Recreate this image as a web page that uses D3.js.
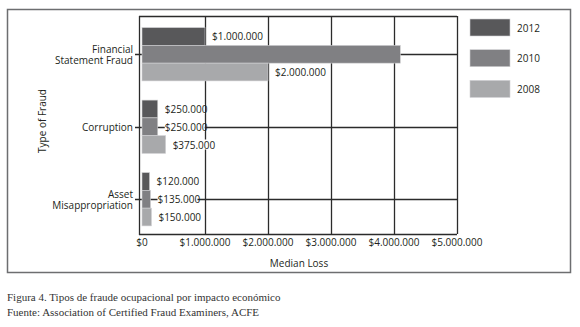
<!DOCTYPE html>
<html>
<head>
<meta charset="utf-8">
<script src="https://cdn.jsdelivr.net/npm/d3@7"></script>
<style>
  body { margin: 0; background: #fff; }
  svg { display: block; }
</style>
</head>
<body>
<svg id="chart" width="580" height="327"></svg>
<script>
const categories = ['Financial Statement Fraud', 'Corruption', 'Asset Misappropriation']
const categoryLines = [['Financial', 'Statement Fraud'], ['Corruption'], ['Asset', 'Misappropriation']]
const years = ['2012', '2010', '2008']
const values2012 = [1000000, 250000, 120000]
const values2010 = [4100000, 250000, 135000]
const values2008 = [2000000, 375000, 150000]
const labels2012 = ['$1.000.000', '$250.000', '$120.000']
const labels2010 = ['', '$250.000', '$135.000']
const labels2008 = ['$2.000.000', '$375.000', '$150.000']
const xTicks = [0, 1000000, 2000000, 3000000, 4000000, 5000000]
const xTickLabels = ['$0', '$1.000.000', '$2.000.000', '$3.000.000', '$4.000.000', '$5.000.000']
const colors = ['#58585a', '#808083', '#a8a9ab']

const svg = d3.select('#chart')
const font = "'Open Sans', 'Liberation Sans', sans-serif"
const txt = '#231f20'
const gridColor = '#2b2b2b'

const plotLeft = 139, plotRight = 457, plotTop = 16, plotBottom = 234

const x = d3.scaleLinear().domain([0, 5000000]).range([142, 457])
const y = d3.scaleBand().domain(categories).range([18, 235.5]).paddingInner(0.265).paddingOuter(0.1325)
const ySub = d3.scaleBand().domain(years).range([0, y.bandwidth()])

const series = [values2012, values2010, values2008]
const seriesLabels = [labels2012, labels2010, labels2008]

// outer frame
svg.append('rect')
  .attr('x', 7.5).attr('y', 9.5)
  .attr('width', 563).attr('height', 263)
  .attr('fill', 'none')
  .attr('stroke', '#6d6e70')
  .attr('stroke-width', 1.5)

// grid
let grid = svg.append('g')
  .attr('stroke', gridColor)
  .attr('stroke-width', 1.3)
grid.selectAll('line.vgrid')
  .data(xTicks.slice(1))
  .join('line')
  .attr('class', 'vgrid')
  .attr('x1', d => Math.round(x(d)) + 0.5)
  .attr('x2', d => Math.round(x(d)) + 0.5)
  .attr('y1', plotTop).attr('y2', plotBottom)
grid.selectAll('line.hgrid')
  .data(categories)
  .join('line')
  .attr('class', 'hgrid')
  .attr('x1', plotLeft - 4).attr('x2', plotRight)
  .attr('y1', d => Math.round(y(d) + y.bandwidth() / 2) + 0.5)
  .attr('y2', d => Math.round(y(d) + y.bandwidth() / 2) + 0.5)
grid.append('line').attr('x1', plotLeft).attr('x2', plotRight)
  .attr('y1', plotTop + 0.5).attr('y2', plotTop + 0.5)
grid.append('line').attr('x1', plotLeft).attr('x2', plotRight)
  .attr('y1', plotBottom + 0.5).attr('y2', plotBottom + 0.5)
grid.append('line').attr('x1', plotLeft + 0.5).attr('x2', plotLeft + 0.5)
  .attr('y1', plotTop).attr('y2', plotBottom + 1)

// bars
series.forEach((vals, i) => {
  svg.append('g')
    .selectAll('rect')
    .data(categories)
    .join('rect')
    .attr('x', x(0))
    .attr('y', d => y(d) + ySub(years[i]))
    .attr('width', (d, j) => x(vals[j]) - x(0))
    .attr('height', ySub.bandwidth())
    .attr('fill', colors[i])
    .attr('stroke', '#d0d0d2')
    .attr('stroke-width', 0.6)
})

// value labels, on a white patch that hides the grid behind them
series.forEach((vals, i) => {
  categories.forEach((c, j) => {
    const label = seriesLabels[i][j]
    if (!label) return
    let g = svg.append('g')
    let t = g.append('text')
      .attr('x', x(vals[j]) + 7)
      .attr('y', y(c) + ySub(years[i]) + ySub.bandwidth() / 2 + 4)
      .text(label)
      .style('font-family', font)
      .style('font-size', '10px')
      .attr('fill', txt)
    let bb = t.node().getBBox()
    g.insert('rect', 'text')
      .attr('x', bb.x).attr('y', bb.y + 2)
      .attr('width', Math.max(0, bb.width - 3)).attr('height', Math.max(0, bb.height - 4))
      .attr('fill', '#fff')
  })
})

// category labels
categories.forEach((c, j) => {
  const lines = categoryLines[j]
  const cy = y(c) + y.bandwidth() / 2
  const y0 = lines.length == 1 ? cy + 4 : cy - 1
  let t = svg.append('text')
    .attr('text-anchor', 'end')
    .style('font-family', font)
    .style('font-size', '10px')
    .attr('fill', txt)
  lines.forEach((l, k) => {
    t.append('tspan')
      .attr('x', 133)
      .attr('y', y0 + k * 11)
      .text(l)
  })
})

// x tick labels
svg.selectAll('text.xlab')
  .data(xTicks)
  .join('text')
  .attr('class', 'xlab')
  .attr('x', d => x(d))
  .attr('y', 246)
  .attr('text-anchor', 'middle')
  .text((d, i) => xTickLabels[i])
  .style('font-family', font)
  .style('font-size', '10px')
  .attr('fill', txt)

svg.append('text')
  .attr('x', 299).attr('y', 267)
  .attr('text-anchor', 'middle')
  .text('Median Loss')
  .style('font-family', font)
  .style('font-size', '10px')
  .attr('fill', txt)

svg.append('text')
  .attr('transform', 'translate(46, 121) rotate(-90)')
  .attr('text-anchor', 'middle')
  .text('Type of Fraud')
  .style('font-family', font)
  .style('font-size', '10px')
  .attr('fill', txt)

// legend
let legend = svg.append('g')
years.forEach((yr, i) => {
  legend.append('rect')
    .attr('x', 470).attr('y', 19 + i * 30.7)
    .attr('width', 40).attr('height', 17)
    .attr('fill', colors[i])
    .attr('stroke', '#d0d0d2')
    .attr('stroke-width', 0.6)
  legend.append('text')
    .attr('x', 517).attr('y', 31.5 + i * 30.7)
    .text(yr)
    .style('font-family', font)
    .style('font-size', '10px')
    .attr('fill', txt)
})

// caption
const serif = "'Liberation Serif', 'DejaVu Serif', serif"
svg.append('text').attr('x', 7).attr('y', 301)
  .text('Figura 4. Tipos de fraude ocupacional por impacto económico')
  .style('font-family', serif).style('font-size', '11px').attr('fill', '#333')
svg.append('text').attr('x', 7).attr('y', 316)
  .text('Fuente: Association of Certified Fraud Examiners, ACFE')
  .style('font-family', serif).style('font-size', '11px').attr('fill', '#333')
</script>
</body>
</html>
